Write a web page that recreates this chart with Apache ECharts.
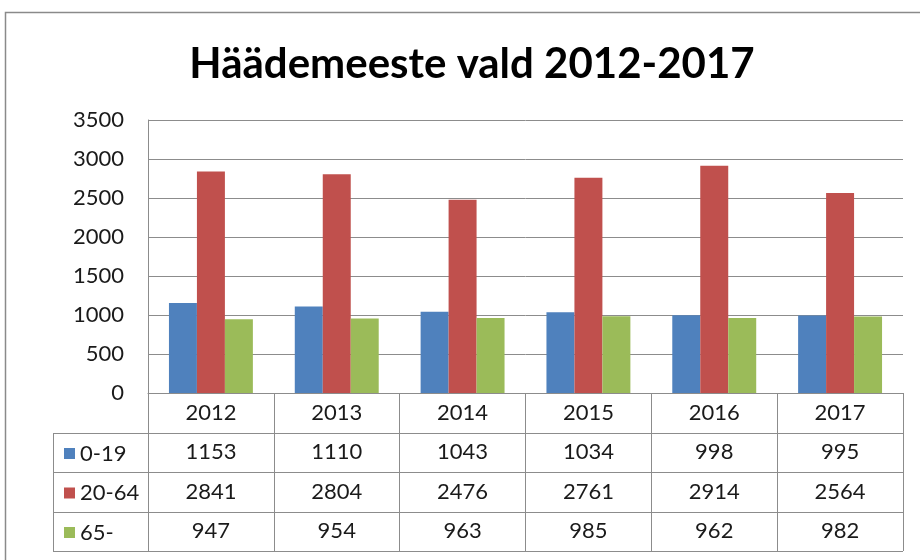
<!DOCTYPE html>
<html>
<head>
<meta charset="utf-8">
<script src="https://cdn.jsdelivr.net/npm/echarts@6/dist/echarts.min.js"></script>
<style>
  html, body { margin: 0; padding: 0; background: #fff; }
  #chart { width: 920px; height: 560px; }
</style>
</head>
<body>
<div id="chart"></div>
<script>
var years = ['2012', '2013', '2014', '2015', '2016', '2017'];
var groups = ['0-19', '20-64', '65-'];
var age0_19 = [1153, 1110, 1043, 1034, 998, 995];
var age20_64 = [2841, 2804, 2476, 2761, 2914, 2564];
var age65 = [947, 954, 963, 985, 962, 982];
var yTicks = [0, 500, 1000, 1500, 2000, 2500, 3000, 3500];

var colors = ['#4F81BD', '#C0504D', '#9BBB59'];
var lineCol = '#8c8c8c';
var font = 'Lato, "Open Sans", sans-serif';

// layout of the plot + data table
var gLeft = 148, gTop = 120, gRight = 17, gBottom = 167;
var rowH = 39.5;
var axisY = 560 - gBottom;
var tableLeft = 53, tableRight = 920 - gRight;

var myChart = echarts.init(document.getElementById('chart'));

// table horizontal lines
var tableLines = [];
for (var r = 1; r <= 4; r++) {
  var y = Math.round(axisY + r * rowH) + 0.5;
  tableLines.push({
    type: 'line',
    shape: { x1: tableLeft, y1: y, x2: tableRight, y2: y },
    style: { stroke: lineCol, lineWidth: 1 }
  });
}
tableLines.push({
  type: 'line',
  shape: { x1: tableLeft + 0.5, y1: Math.round(axisY + rowH) + 0.5, x2: tableLeft + 0.5, y2: Math.round(axisY + 4 * rowH) + 0.5 },
  style: { stroke: lineCol, lineWidth: 1 }
});
// outer chart frame
tableLines.push({
  type: 'rect',
  shape: { x: 5.5, y: 12.5, width: 1000, height: 1000 },
  style: { fill: 'none', stroke: '#8a8a8a', lineWidth: 1.5 },
  z: 100
});

var option = {
  animation: false,
  title: {
    text: 'Häädemeeste vald 2012-2017',
    left: 467,
    textAlign: 'center',
    top: 38,
    textStyle: { fontFamily: font, fontWeight: 'bold', fontSize: 42, color: '#000' }
  },
  legend: {
    data: groups,
    orient: 'vertical',
    left: 59,
    top: axisY + rowH + 5,
    itemWidth: 11,
    itemHeight: 11,
    itemGap: rowH - 22,
    icon: 'rect',
    textStyle: { fontFamily: font, fontSize: 22, lineHeight: 22, color: '#1a1a1a' }
  },
  grid: { left: gLeft, top: gTop, right: gRight, bottom: gBottom },
  xAxis: {
    type: 'category',
    data: years,
    axisLine: { lineStyle: { color: lineCol } },
    axisTick: { show: true, length: 4 * rowH, lineStyle: { color: lineCol } },
    axisLabel: {
      interval: 0,
      margin: 0,
      formatter: function (val, i) {
        return '{v|' + val + '}\n{v|' + age0_19[i] + '}\n{v|' + age20_64[i] + '}\n{v|' + age65[i] + '}';
      },
      rich: {
        v: { fontFamily: font, fontSize: 22, lineHeight: rowH, color: '#1a1a1a' }
      }
    }
  },
  yAxis: {
    type: 'value',
    min: yTicks[0],
    max: yTicks[yTicks.length - 1],
    interval: 500,
    axisLine: { show: true, lineStyle: { color: lineCol } },
    axisTick: { show: false },
    splitLine: { lineStyle: { color: lineCol } },
    axisLabel: {
      margin: 24, fontFamily: font, fontSize: 22, color: '#1a1a1a',
      formatter: function (v) { return String(v); }
    }
  },
  series: [
    { name: groups[0], type: 'bar', data: age0_19, itemStyle: { color: colors[0] }, barGap: 0, barCategoryGap: '33.3%' },
    { name: groups[1], type: 'bar', data: age20_64, itemStyle: { color: colors[1] } },
    { name: groups[2], type: 'bar', data: age65, itemStyle: { color: colors[2] } }
  ],
  graphic: tableLines
};

myChart.setOption(option);
</script>
</body>
</html>
